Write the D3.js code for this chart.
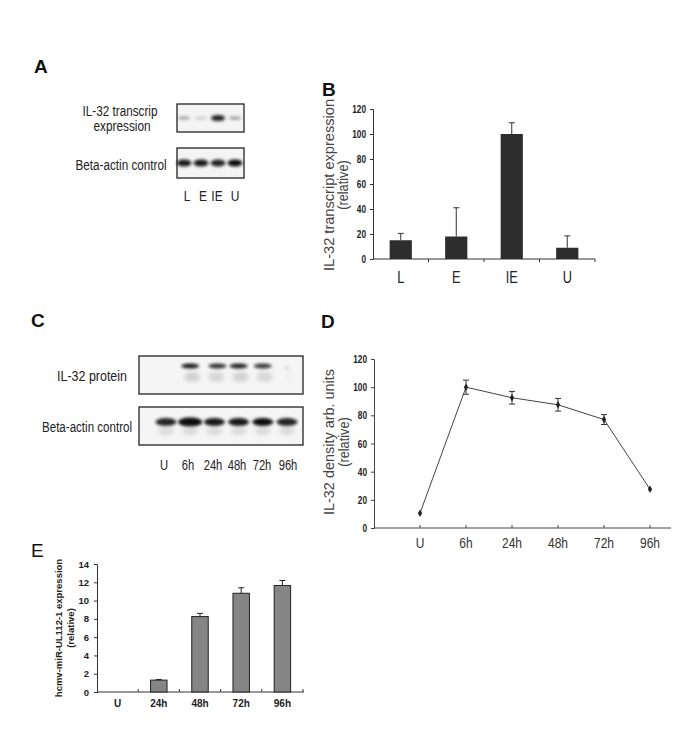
<!DOCTYPE html>
<html><head><meta charset="utf-8">
<script src="https://cdn.jsdelivr.net/npm/d3@7"></script>
<style>body{margin:0;background:#fff}svg{display:block}text{font-family:"Liberation Sans",Arial,sans-serif}</style>
</head><body>
<script>
// ---- data ----
const blotALanes = ["L","E","IE","U"];
const blotAIL32 = [0.28,0.15,0.9,0.3];
const blotAActin = [0.95,0.95,0.9,1.0];

const bCats = ["L","E","IE","U"];
const bValues = [15,18,100,9];
const bErrors = [5.5,23,9,9.5];
const bTicks = [0,20,40,60,80,100,120];

const cLanes = ["U","6h","24h","48h","72h","96h"];
const cIL32 = [0,0.95,0.85,0.92,0.82,0.18];
const cActin = [0.9,1.0,0.95,0.95,1.0,0.9];

const dCats = ["U","6h","24h","48h","72h","96h"];
const dValues = [10.5,100,92.5,87.5,77,27.5];
const dErrors = [0.8,5,4.5,4.5,3.5,0.8];
const dTicks = [0,20,40,60,80,100,120];

const eCats = ["U","24h","48h","72h","96h"];
const eValues = [0,1.3,8.25,10.8,11.65];
const eErrors = [0,0.06,0.35,0.6,0.55];
const eTicks = [0,2,4,6,8,10,12,14];

const W=685,H=733;
const svg=d3.select("body").append("svg").attr("width",W).attr("height",H);
const defs=svg.append("defs");
defs.append("filter").attr("id","blur").attr("x","-50%").attr("y","-100%").attr("width","200%").attr("height","300%")
  .append("feGaussianBlur").attr("stdDeviation",1.4);
defs.append("filter").attr("id","blur2").attr("x","-50%").attr("y","-100%").attr("width","200%").attr("height","300%")
  .append("feGaussianBlur").attr("stdDeviation",2.2);

// condense text horizontally (reference uses a narrow face)
function condense(sel,f){sel.each(function(){const l=this.getComputedTextLength();if(l>0)d3.select(this).attr("textLength",l*f).attr("lengthAdjust","spacingAndGlyphs");});}
function fitTo(sel,w){sel.attr("textLength",w).attr("lengthAdjust","spacingAndGlyphs");}

function letter(t,x,y,bold){svg.append("text").attr("x",x).attr("y",y).attr("font-size",19).attr("font-weight",bold?"bold":"normal").attr("fill","#111").text(t);}
function txt(t,x,y,size,anchor,opts={}){return svg.append("text").attr("x",x).attr("y",y).attr("font-size",size).attr("text-anchor",anchor||"start").attr("fill",opts.fill||"#222").attr("font-weight",opts.weight||"normal").text(t);}

// ---- Panel A ----
letter("A",34,73,true);
fitTo(txt("IL-32 transcrip",120,116,14,"middle"),75);
fitTo(txt("expression",122,131,14,"middle"),57);
fitTo(txt("Beta-actin control",121,170,14,"middle"),91);
const ax=d3.scalePoint().domain(blotALanes).range([184,235]);
const boxA1={x:177,y:104,w:67,h:28}, boxA2={x:177,y:148,w:67,h:30};
[boxA1,boxA2].forEach(b=>svg.append("rect").attr("x",b.x).attr("y",b.y).attr("width",b.w).attr("height",b.h).attr("fill","#f4f4f4").attr("stroke","#222").attr("stroke-width",1.3));
svg.append("g").attr("filter","url(#blur)").selectAll("ellipse").data(blotALanes).join("ellipse")
  .attr("cx",d=>ax(d)).attr("cy",118).attr("rx",(d,i)=>blotAIL32[i]>0.5?7:6).attr("ry",(d,i)=>1.5+blotAIL32[i]*1.8)
  .attr("fill","#111").attr("opacity",(d,i)=>blotAIL32[i]);
svg.append("g").attr("filter","url(#blur)").selectAll("ellipse").data(blotALanes).join("ellipse")
  .attr("cx",d=>ax(d)).attr("cy",163).attr("rx",7.5).attr("ry",3.5)
  .attr("fill","#111").attr("opacity",(d,i)=>blotAActin[i]);
blotALanes.forEach((l,i)=>condense(txt(l,[187,203,217,235][i],201,15,"middle"),0.8));

// ---- Panel B ----
letter("B",322,96,true);
const bx=d3.scaleBand().domain(bCats).range([373,595]).paddingInner(0.6).paddingOuter(0.3);
const by=d3.scaleLinear().domain([0,120]).range([259,109]);
const gB=svg.append("g");
gB.append("g").attr("transform","translate(373,0)").call(d3.axisLeft(by).tickValues(bTicks).tickSize(3).tickPadding(4))
  .call(g=>{g.selectAll("text").attr("font-size",11).attr("font-weight","bold").attr("fill","#222").call(condense,0.75);g.selectAll("line,path").attr("stroke","#333");});
gB.append("line").attr("x1",373).attr("x2",595).attr("y1",259).attr("y2",259).attr("stroke","#333");
[1,2,3,4].forEach(i=>gB.append("line").attr("x1",373+i*55.5).attr("x2",373+i*55.5).attr("y1",259).attr("y2",262).attr("stroke","#333"));
gB.selectAll("rect.bar").data(bCats).join("rect").attr("class","bar")
  .attr("x",d=>bx(d)).attr("width",bx.bandwidth()).attr("y",(d,i)=>by(bValues[i])).attr("height",(d,i)=>by(0)-by(bValues[i])).attr("fill","#2d2d2d");
bCats.forEach((c,i)=>{const cx=bx(c)+bx.bandwidth()/2,top=by(bValues[i]+bErrors[i]);
  gB.append("line").attr("x1",cx).attr("x2",cx).attr("y1",by(bValues[i])).attr("y2",top).attr("stroke","#333");
  gB.append("line").attr("x1",cx-3).attr("x2",cx+3).attr("y1",top).attr("y2",top).attr("stroke","#333");
  condense(txt(c,cx,283,16,"middle"),0.8);});
fitTo(svg.append("text").attr("transform","translate(334,185) rotate(-90)").attr("text-anchor","middle").attr("font-size",15).attr("fill","#444").text("IL-32 transcript expression"),172);
svg.append("text").attr("transform","translate(348,185) rotate(-90)").attr("text-anchor","middle").attr("font-size",15).attr("fill","#444").text("(relative)").call(condense,0.85);

// ---- Panel C ----
letter("C",31,327,true);
fitTo(txt("IL-32 protein",92,381,14,"middle"),70);
fitTo(txt("Beta-actin control",87,432,14,"middle"),90);
const cx=d3.scalePoint().domain(cLanes).range([166,287]);
[{y:356,h:38},{y:407,h:38}].forEach(b=>svg.append("rect").attr("x",139).attr("y",b.y).attr("width",164).attr("height",b.h).attr("fill","#f5f5f5").attr("stroke","#222").attr("stroke-width",1.3));
const gC1=svg.append("g").attr("filter","url(#blur)");
gC1.selectAll("ellipse").data(cLanes).join("ellipse")
  .attr("cx",d=>cx(d)+(d==="24h"?3:0)).attr("cy",(d,i)=>i===5?368:366).attr("rx",(d,i)=>i===5?3:9).attr("ry",(d,i)=>i===5?1:2.5)
  .attr("fill","#111").attr("opacity",(d,i)=>cIL32[i]);
const gC1b=svg.append("g").attr("filter","url(#blur2)");
gC1b.selectAll("ellipse").data(cLanes).join("ellipse")
  .attr("cx",d=>cx(d)+2).attr("cy",377).attr("rx",(d,i)=>i===5?3:8).attr("ry",5)
  .attr("fill","#888").attr("opacity",(d,i)=>cIL32[i]*0.35);
const gC2=svg.append("g").attr("filter","url(#blur)");
gC2.selectAll("ellipse").data(cLanes).join("ellipse")
  .attr("cx",d=>cx(d)).attr("cy",422).attr("rx",(d,i)=>i===1?12:10.5).attr("ry",(d,i)=>i===1?4.5:4)
  .attr("fill","#0c0c0c").attr("opacity",(d,i)=>cActin[i]);
svg.append("g").attr("filter","url(#blur2)").selectAll("ellipse").data(cLanes).join("ellipse")
  .attr("cx",d=>cx(d)).attr("cy",431).attr("rx",8).attr("ry",4).attr("fill","#999").attr("opacity",0.3);
cLanes.forEach((l,i)=>condense(txt(l,[164,188,213,237,262,288][i],470,14,"middle"),0.8));

// ---- Panel D ----
letter("D",321,328,true);
const dx=d3.scalePoint().domain(dCats).range([420,650]);
const dy=d3.scaleLinear().domain([0,120]).range([528,359]);
const gD=svg.append("g");
gD.append("g").attr("transform","translate(374,0)").call(d3.axisLeft(dy).tickValues(dTicks).tickSize(3).tickPadding(4))
  .call(g=>{g.selectAll("text").attr("font-size",11).attr("font-weight","bold").attr("fill","#222").call(condense,0.75);g.selectAll("line,path").attr("stroke","#444");});
gD.append("line").attr("x1",374).attr("x2",671).attr("y1",528).attr("y2",528).attr("stroke","#444");
dCats.forEach(c=>gD.append("line").attr("x1",dx(c)).attr("x2",dx(c)).attr("y1",528).attr("y2",525).attr("stroke","#444"));
gD.append("path").datum(dCats).attr("fill","none").attr("stroke","#444").attr("stroke-width",1)
  .attr("d",d3.line().x(d=>dx(d)).y((d,i)=>dy(dValues[i])));
dCats.forEach((c,i)=>{const x=dx(c),lo=dy(dValues[i]-dErrors[i]),hi=dy(dValues[i]+dErrors[i]);
  if(dErrors[i]>1){gD.append("line").attr("x1",x).attr("x2",x).attr("y1",lo).attr("y2",hi).attr("stroke","#333");
  [lo,hi].forEach(yy=>gD.append("line").attr("x1",x-3).attr("x2",x+3).attr("y1",yy).attr("y2",yy).attr("stroke","#333"));}
  condense(txt(c,x,548,15,"middle",{fill:"#333"}),0.8);});
gD.selectAll("path.pt").data(dCats).join("path").attr("class","pt")
  .attr("transform",(d,i)=>`translate(${dx(d)},${dy(dValues[i])})`).attr("d",d3.symbol(d3.symbolDiamond,16)).attr("fill","#222");
fitTo(svg.append("text").attr("transform","translate(334,442) rotate(-90)").attr("text-anchor","middle").attr("font-size",15).attr("fill","#444").text("IL-32 density arb. units"),146);
svg.append("text").attr("transform","translate(349,442) rotate(-90)").attr("text-anchor","middle").attr("font-size",15).attr("fill","#444").text("(relative)").call(condense,0.85);

// ---- Panel E ----
letter("E",31,557,false);
const ex=d3.scaleBand().domain(eCats).range([97,303]).paddingInner(0.6).paddingOuter(0.3);
const ey=d3.scaleLinear().domain([0,14]).range([692,564]);
const gE=svg.append("g");
gE.append("g").attr("transform","translate(97,0)").call(d3.axisLeft(ey).tickValues(eTicks).tickSize(3).tickPadding(5))
  .call(g=>{g.selectAll("text").attr("font-size",9.5).attr("font-weight","bold").attr("fill","#222");g.selectAll("line,path").attr("stroke","#333");});
gE.append("line").attr("x1",97).attr("x2",304).attr("y1",692).attr("y2",692).attr("stroke","#333");
[1,2,3,4,5].forEach(i=>gE.append("line").attr("x1",97+i*41.2).attr("x2",97+i*41.2).attr("y1",692).attr("y2",689).attr("stroke","#333"));
gE.selectAll("rect.bar").data(eCats).join("rect").attr("class","bar")
  .attr("x",d=>ex(d)).attr("width",ex.bandwidth()).attr("y",(d,i)=>ey(eValues[i])).attr("height",(d,i)=>ey(0)-ey(eValues[i]))
  .attr("fill","#858585").attr("stroke","#222").attr("stroke-width",(d,i)=>eValues[i]>0?1:0);
eCats.forEach((c,i)=>{const x=ex(c)+ex.bandwidth()/2;
  if(eValues[i]>0){const top=ey(eValues[i]+eErrors[i]);
    gE.append("line").attr("x1",x).attr("x2",x).attr("y1",ey(eValues[i])).attr("y2",top).attr("stroke","#222");
    gE.append("line").attr("x1",x-3).attr("x2",x+3).attr("y1",top).attr("y2",top).attr("stroke","#222");}
  txt(c,x,707,10,"middle",{weight:"bold"});});
svg.append("text").attr("transform","translate(62,628) rotate(-90)").attr("text-anchor","middle").attr("font-size",9.5).attr("font-weight","bold").attr("fill","#222").text("hcmv-miR-UL112-1 expression");
svg.append("text").attr("transform","translate(74,628) rotate(-90)").attr("text-anchor","middle").attr("font-size",9.5).attr("font-weight","bold").attr("fill","#222").text("(relative)");
</script>
</body></html>
